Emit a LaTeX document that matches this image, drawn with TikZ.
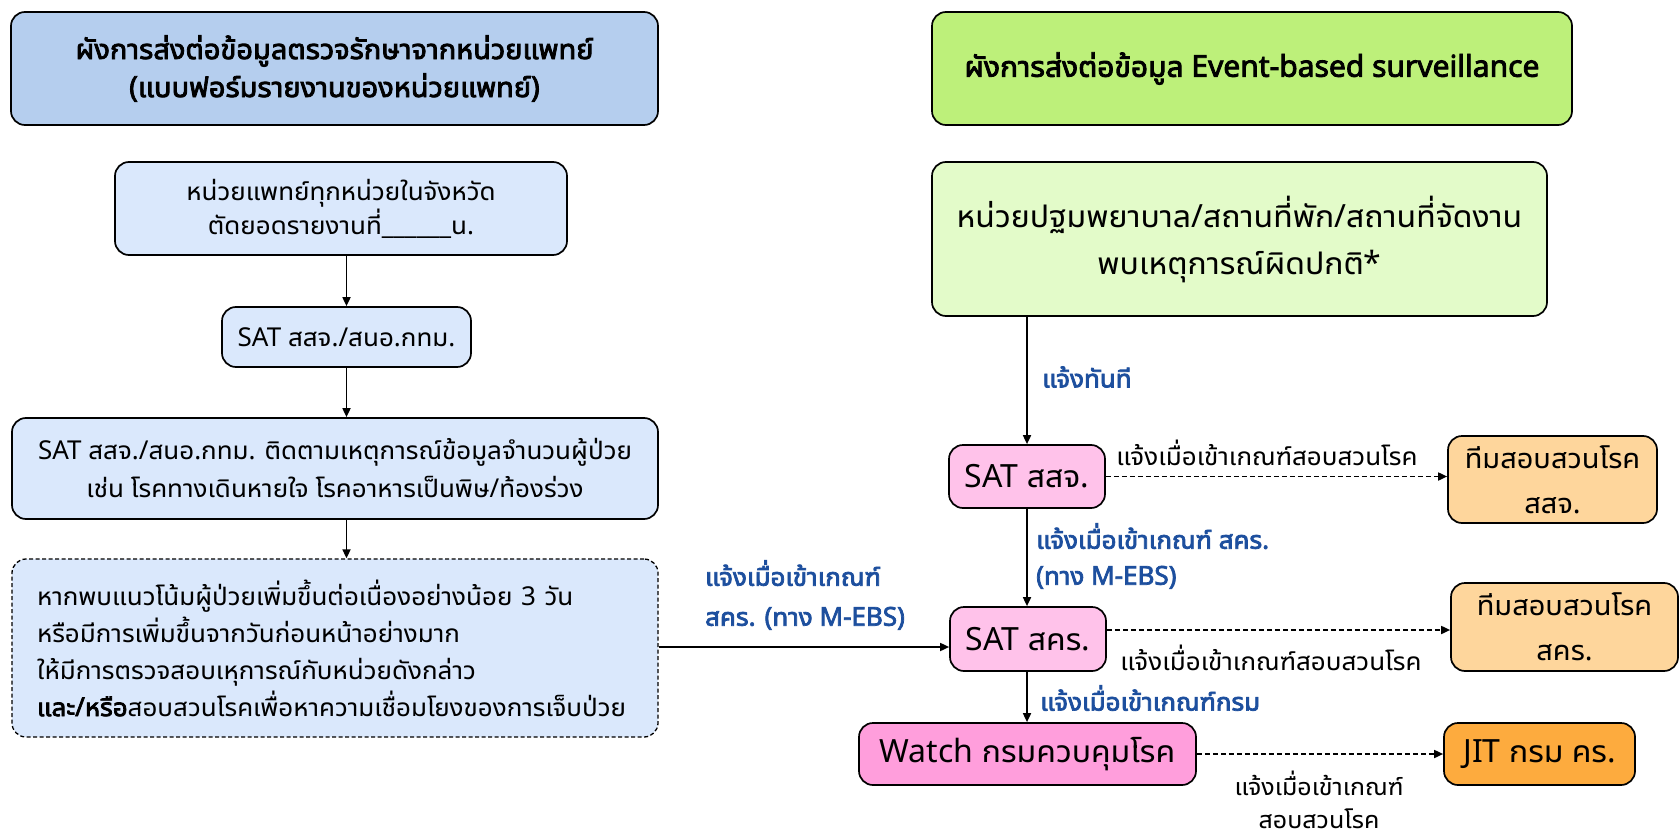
\documentclass[tikz,border=0pt]{standalone}
\usepackage{fontspec}
\setmainfont{Noto Sans}[AutoFakeBold=2.8]
\newfontfamily\thf{Noto Sans Thai UI}[Script=Thai, AutoFakeBold=2.8]
\newcommand\T[1]{{\thf #1}}
\usetikzlibrary{arrows.meta}
\definecolor{hdrL}{HTML}{B5CEEE}
\definecolor{boxL}{HTML}{DAE8FC}
\definecolor{hdrR}{HTML}{BDF07A}
\definecolor{boxG}{HTML}{E3FBC9}
\definecolor{pinkA}{HTML}{FFC2EA}
\definecolor{pinkB}{HTML}{FF9EDC}
\definecolor{orA}{HTML}{FED69C}
\definecolor{orB}{HTML}{FDAB3E}
\definecolor{lblue}{HTML}{1D4F9E}
\tikzset{
 bx/.style={draw=black, line width=1.7pt, rounded corners=14pt, inner sep=0pt, align=center, text=black},
 arr/.style={-{Triangle[length=9pt,width=8pt]}, line width=1.7pt},
 darr/.style={arr, dash pattern=on 5pt off 3pt},
 lab/.style={inner sep=0pt, align=center, font=\fontsize{26}{35}\selectfont},
 blab/.style={inner sep=0pt, align=left, text=lblue, font=\bfseries\fontsize{26}{36}\selectfont},
 body/.style={font=\fontsize{26}{34}\selectfont},
 big/.style={font=\fontsize{32}{47}\selectfont},
 hdrl/.style={font=\bfseries\fontsize{29}{38}\selectfont},
 hdrr/.style={font=\bfseries\fontsize{30}{38}\selectfont},
}
\begin{document}
\begin{tikzpicture}[x=1pt,y=-1pt]
\fill[white] (0,0) rectangle (1680,837);
\path[use as bounding box] (0,0) rectangle (1680,837);
% left column
\node[bx, hdrl, fill=hdrL, minimum width=647pt, minimum height=113pt] (hL) at (334.5,68.5)
 {\T{ผังการส่งต่อข้อมูลตรวจรักษาจากหน่วยแพทย์}\\(\T{แบบฟอร์มรายงานของหน่วยแพทย์})};
\node[bx, body, fill=boxL, minimum width=452pt, minimum height=93pt] (b1) at (341,208.5)
 {\T{หน่วยแพทย์ทุกหน่วยในจังหวัด}\\\T{ตัดยอดรายงานที่}\_\_\_\_\_\_\T{น}.};
\node[bx, body, fill=boxL, minimum width=249pt, minimum height=60pt] (b2) at (346.5,337)
 {SAT \T{สสจ}./\T{สนอ}.\T{กทม}.};
\node[bx, fill=boxL, minimum width=646pt, minimum height=101pt, font=\fontsize{26}{38}\selectfont] (b3) at (335,468.5)
 {SAT \T{สสจ}./\T{สนอ}.\T{กทม}. \T{ติดตามเหตุการณ์ข้อมูลจำนวนผู้ป่วย}\\\T{เช่น โรคทางเดินหายใจ โรคอาหารเป็นพิษ}/\T{ท้องร่วง}};
\node[bx, fill=boxL, dash pattern=on 4pt off 2.5pt, line width=1.3pt, align=left,
 inner xsep=25pt, text width=596pt, minimum height=178pt, font=\fontsize{26}{37}\selectfont] (b4) at (335,648)
 {\T{หากพบแนวโน้มผู้ป่วยเพิ่มขึ้นต่อเนื่องอย่างน้อย} 3 \T{วัน}\\\T{หรือมีการเพิ่มขึ้นจากวันก่อนหน้าอย่างมาก}\\\T{ให้มีการตรวจสอบเหุการณ์กับหน่วยดังกล่าว}\\{\bfseries\T{และ}/\T{หรือ}}\T{สอบสวนโรคเพื่อหาความเชื่อมโยงของการเจ็บป่วย}};
\draw[arr] (b1.south -| b2.north) -- (b2.north);
\draw[arr] (b2.south) -- (b2.south |- b3.north);
\draw[arr] (b3.south -| b2.south) -- (b4.north -| b2.south);
% right column
\node[bx, hdrr, fill=hdrR, minimum width=640pt, minimum height=113pt] (hR) at (1252,68.5)
 {\T{ผังการส่งต่อข้อมูล} Event-based surveillance};
\node[bx, big, fill=boxG, minimum width=615pt, minimum height=154pt] (g) at (1239.5,239)
 {\T{หน่วยปฐมพยาบาล}/\T{สถานที่พัก}/\T{สถานที่จัดงาน}\\\T{พบเหตุการณ์ผิดปกติ}*};
\node[bx, big, fill=pinkA, minimum width=156pt, minimum height=63pt] (s1) at (1027,476.5) {SAT \T{สสจ}.};
\node[bx, fill=orA, minimum width=209pt, minimum height=87pt, font=\fontsize{29}{45}\selectfont] (o1) at (1552.5,479.5)
 {\T{ทีมสอบสวนโรค}\\\T{สสจ}.};
\node[bx, big, fill=pinkA, minimum width=156pt, minimum height=64pt] (s2) at (1028,639) {SAT \T{สคร}.};
\node[bx, fill=orA, minimum width=227pt, minimum height=88pt, font=\fontsize{29}{45}\selectfont] (o2) at (1564.5,627)
 {\T{ทีมสอบสวนโรค}\\\T{สคร}.};
\node[bx, big, fill=pinkB, minimum width=337pt, minimum height=62pt] (w) at (1027.5,754) {Watch \T{กรมควบคุมโรค}};
\node[bx, big, fill=orB, minimum width=191pt, minimum height=62pt] (jit) at (1539.5,754) {JIT \T{กรม คร}.};
\draw[arr] (g.south -| s1.north) -- (s1.north);
\draw[darr] (s1.east) -- (s1.east -| o1.west);
\draw[arr] (s1.south) -- (s1.south |- s2.north);
\draw[arr] ([yshift=-8pt]s2.west -| b4.east) -- ([yshift=-8pt]s2.west);
\draw[darr] ([yshift=9pt]s2.east) -- ([yshift=9pt]s2.east -| o2.west);
\draw[arr] (s2.south -| s1.south) -- (w.north -| s1.south);
\draw[darr] (w.east) -- (w.east -| jit.west);
% labels
\node[blab, anchor=west] (l1) at (1042,377) {\T{แจ้งทันที}};
\node[lab] (l2) at (1267,453) {\T{แจ้งเมื่อเข้าเกณฑ์สอบสวนโรค}};
\node[blab, anchor=west] (l3) at (1036,556) {\T{แจ้งเมื่อเข้าเกณฑ์ สคร}.\\(\T{ทาง} M-EBS)};
\node[blab, align=left, font=\bfseries\fontsize{26}{40}\selectfont] (l4) at (805,595) {\T{แจ้งเมื่อเข้าเกณฑ์}\\\T{สคร}. (\T{ทาง} M-EBS)};
\node[lab] (l5) at (1271,658) {\T{แจ้งเมื่อเข้าเกณฑ์สอบสวนโรค}};
\node[blab, anchor=west] (l6) at (1040,698) {\T{แจ้งเมื่อเข้าเกณฑ์กรม}};
\node[lab, font=\fontsize{25}{33}\selectfont] (l7) at (1319,800) {\T{แจ้งเมื่อเข้าเกณฑ์}\\\T{สอบสวนโรค}};
\end{tikzpicture}
\end{document}
